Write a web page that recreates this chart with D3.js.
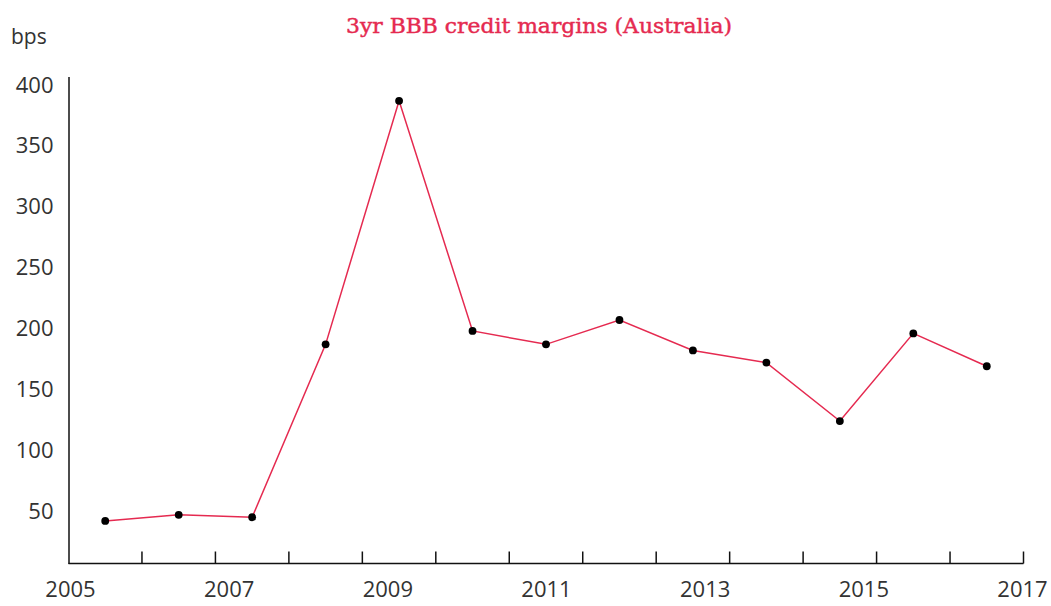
<!DOCTYPE html>
<html>
<head>
<meta charset="utf-8">
<script src="https://cdn.jsdelivr.net/npm/d3@7"></script>
<style>
  html, body { margin: 0; padding: 0; background: #fff; }
  svg { display: block; }
</style>
</head>
<body>
<div id="chart"></div>
<script>
// Data
const periods = ['2005', '2006', '2007', '2008', '2009', '2010', '2011',
                 '2012', '2013', '2014', '2015', '2016', '2017'];
const margins = [42, 47, 45, 187, 387, 198, 187, 207, 182, 172, 124, 196, 169];
const yearLabels = [2005, 2007, 2009, 2011, 2013, 2015, 2017];
const yTicks = [50, 100, 150, 200, 250, 300, 350, 400];

const title = '3yr BBB credit margins (Australia)';
const unitLabel = 'bps';

// Chart dimensions
const W = 1051, H = 606;
const plot = { left: 68.5, right: 1023.5, top: 76.5, bottom: 563.5 };
const colors = { line: '#e52a50', dot: '#000', axis: '#111', text: '#333' };
const labelFont = '"Open Sans", sans-serif';

// Scales
const xBand = d3.scaleBand()
  .domain(periods)
  .range([plot.left, plot.right]);

const xYears = d3.scaleLinear()
  .domain([yearLabels[0], yearLabels[yearLabels.length - 1]])
  .range([70, 1022]);

const yScale = d3.scaleLinear()
  .domain([7, 407])
  .range([plot.bottom, plot.top]);

const cx = d => xBand(d) + xBand.bandwidth() / 2;

const svg = d3.select('#chart').append('svg')
  .attr('width', W)
  .attr('height', H);

// Title and unit label
svg.append('text')
  .attr('x', 539)
  .attr('y', 33)
  .attr('text-anchor', 'middle')
  .attr('font-family', '"DejaVu Serif", serif')
  .attr('font-size', 21)
  .attr('textLength', 386)
  .attr('lengthAdjust', 'spacingAndGlyphs')
  .attr('fill', colors.line)
  .attr('stroke', colors.line)
  .attr('stroke-width', 0.45)
  .text(title);

svg.append('text')
  .attr('x', 11)
  .attr('y', 44)
  .attr('font-family', labelFont)
  .attr('font-size', 21)
  .attr('fill', colors.text)
  .text(unitLabel);

// Y axis
const yAxis = d3.axisLeft(yScale)
  .tickValues(yTicks)
  .tickSize(0)
  .tickPadding(15);

const gy = svg.append('g')
  .attr('transform', `translate(${plot.left}, 0)`)
  .call(yAxis);
gy.select('.domain').attr('stroke', colors.axis).attr('stroke-width', 1.5);
gy.selectAll('text')
  .attr('font-family', labelFont)
  .attr('font-size', 22)
  .attr('fill', colors.text);

// X axis line and inward ticks at band edges
const edges = periods.map(d => xBand(d)).concat([xBand.range()[1]]);

svg.append('line')
  .attr('x1', plot.left)
  .attr('x2', plot.right)
  .attr('y1', plot.bottom)
  .attr('y2', plot.bottom)
  .attr('stroke', colors.axis)
  .attr('stroke-width', 1.5);

svg.append('g')
  .selectAll('line')
  .data(edges.slice(1))
  .join('line')
  .attr('x1', d => d)
  .attr('x2', d => d)
  .attr('y1', plot.bottom)
  .attr('y2', plot.bottom - 12)
  .attr('stroke', colors.axis)
  .attr('stroke-width', 1.5);

// Year labels
const xAxis = d3.axisBottom(xYears)
  .tickValues(yearLabels)
  .tickFormat(d3.format('d'))
  .tickSize(0)
  .tickPadding(18);

const gx = svg.append('g')
  .attr('transform', `translate(0, ${plot.bottom})`)
  .call(xAxis);
gx.select('.domain').remove();
gx.selectAll('text')
  .attr('font-family', labelFont)
  .attr('font-size', 22)
  .attr('fill', colors.text);

// Line
const line = d3.line()
  .x((d, i) => cx(periods[i]))
  .y(d => yScale(d));

svg.append('path')
  .datum(margins)
  .attr('d', line)
  .attr('fill', 'none')
  .attr('stroke', colors.line)
  .attr('stroke-width', 1.5);

// Dots
svg.append('g')
  .selectAll('circle')
  .data(margins)
  .join('circle')
  .attr('cx', (d, i) => cx(periods[i]))
  .attr('cy', d => yScale(d))
  .attr('r', 3.9)
  .attr('fill', colors.dot);
</script>
</body>
</html>
